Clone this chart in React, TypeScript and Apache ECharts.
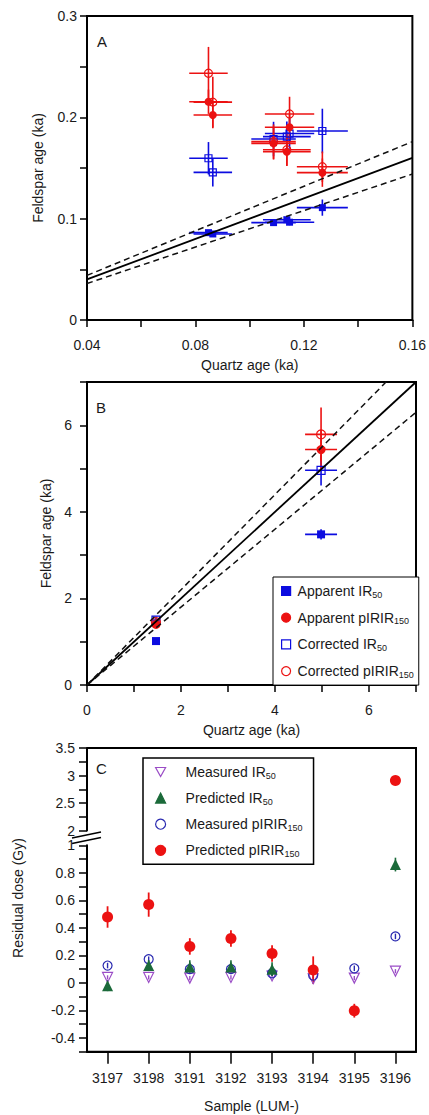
import React, { useEffect, useRef } from 'react';
import * as echarts from 'echarts';

const FONT = "'Liberation Sans', Arial, Helvetica, sans-serif";
const TXT = '#1a1a1a';

// ---------- Panel A (young samples) ----------
const quartzA = [0.0848, 0.0864, 0.1088, 0.1137, 0.1147, 0.1268];
const quartzErrA = [0.0071, 0.0071, 0.0082, 0.0088, 0.0091, 0.0094];
const appIR50A = [0.0862, 0.0849, 0.0961, 0.099, 0.0965, 0.1109];
const appIR50ErrA = [0.002, 0.002, 0.003, 0.003, 0.003, 0.008];
const corIR50A = [0.1596, 0.1457, 0.1786, 0.181, 0.184, 0.1865];
const corIR50ErrA = [0.016, 0.014, 0.017, 0.015, 0.015, 0.022];
const appPIRA = [0.2154, 0.2023, 0.1743, 0.1661, 0.1902, 0.1454];
const appPIRErrA = [0.012, 0.013, 0.016, 0.014, 0.012, 0.014];
const corPIRA = [0.2435, 0.215, 0.176, 0.168, 0.2033, 0.1513];
const corPIRErrA = [0.026, 0.025, 0.017, 0.016, 0.017, 0.015];

// ---------- Panel B (older samples) ----------
const quartzB = [1.468, 4.98];
const quartzErrB = [0.08, 0.34];
const appIR50B = [1.015, 3.48];
const appIR50ErrB = [0.06, 0.12];
const corIR50B = [1.5, 4.96];
const corIR50ErrB = [0.08, 0.35];
const appPIRB = [1.4, 5.44];
const appPIRErrB = [0.07, 0.45];
const corPIRB = [1.45, 5.79];
const corPIRErrB = [0.08, 0.62];

// reference lines: 1:1 and +/-10 %
const refRatios = [1, 1.1, 0.9];
const rangeA = [0.04, 0.16];
const rangeB = [0, 7];

// ---------- Panel C (residual doses) ----------
const samples = ['3197', '3198', '3191', '3192', '3193', '3194', '3195', '3196'];
const measIR50 = [0.04, 0.04, 0.035, 0.04, 0.05, 0.03, 0.035, 0.085];
const measIR50Err = [0.015, 0.015, 0.015, 0.015, 0.015, 0.015, 0.015, 0.015];
const predIR50 = [-0.02, 0.126, 0.115, 0.115, 0.1, null, null, 0.86];
const predIR50Err = [0.04, 0.04, 0.05, 0.05, 0.05, 0, 0, 0.05];
const measPIR = [0.126, 0.172, 0.1, 0.1, 0.07, 0.053, 0.106, 0.338];
const measPIRErr = [0.02, 0.02, 0.02, 0.02, 0.02, 0.02, 0.02, 0.02];
const predPIR = [0.479, 0.569, 0.265, 0.323, 0.214, 0.093, -0.202, 2.91];
const predPIRErr = [0.078, 0.088, 0.06, 0.06, 0.06, 0.1, 0.05, 0.03];

const BLUE = '#0c0ce0';
const RED = '#ec1212';
const GREEN = '#1b6a3a';
const PURPLE = '#9a4cc6';
const NAVY = '#2a2ab0';
const DOWN_TRI = 'path://M0,0 L10,0 L5,9 Z';

// layout
const L = 87;
const W = 329;
const gA = { top: 16, height: 304 };
const gB = { top: 382, height: 303 };
const gCu = { top: 748, height: 82.5 };
const gCl = { top: 845.3, height: 206.4 };

const fmt = (v: number) => String(parseFloat(v.toFixed(3)));

function valAxis(gridIndex: number, min: number, max: number, interval: number, every: number, extra: any = {}) {
  const { axisLabel: labelExtra, axisTick: tickExtra, ...rest } = extra;
  return {
    type: 'value',
    gridIndex,
    min,
    max,
    interval,
    axisLine: { show: true, onZero: false, lineStyle: { color: '#000', width: 2 } },
    axisTick: { show: true, inside: false, length: 7, lineStyle: { color: '#000', width: 1.5 }, ...(tickExtra || {}) },
    splitLine: { show: false },
    axisLabel: {
      show: true,
      showMinLabel: true,
      showMaxLabel: true,
      fontFamily: FONT,
      fontSize: 14,
      color: TXT,
      formatter: (v: number) => (Math.round(v / interval) % every === 0 ? fmt(v) : ''),
      ...(labelExtra || {}),
    },
    nameTextStyle: { fontFamily: FONT, fontSize: 14, color: TXT },
    ...rest,
  };
}

function errSeries(data: number[][], color: string, xAxisIndex: number, yAxisIndex: number, width = 1.6) {
  return {
    type: 'custom',
    coordinateSystem: 'cartesian2d',
    xAxisIndex,
    yAxisIndex,
    silent: true,
    data,
    encode: { x: 0, y: 1 },
    renderItem: (_p: any, api: any) => {
      const x = api.value(0);
      const y = api.value(1);
      const ex = api.value(2);
      const ey = api.value(3);
      const children: any[] = [];
      if (ex > 0) {
        const l = api.coord([x - ex, y]);
        const r = api.coord([x + ex, y]);
        children.push({ type: 'line', shape: { x1: l[0], y1: l[1], x2: r[0], y2: r[1] }, style: { stroke: color, lineWidth: width } });
      }
      if (ey > 0) {
        const t = api.coord([x, y + ey]);
        const b = api.coord([x, y - ey]);
        children.push({ type: 'line', shape: { x1: t[0], y1: t[1], x2: b[0], y2: b[1] }, style: { stroke: color, lineWidth: width } });
      }
      return { type: 'group', children };
    },
  };
}

const xyErr = (xs: number[], ys: number[], ex: number[], ey: number[]) => xs.map((x, i) => [x, ys[i], ex[i], ey[i]]);
const xy = (xs: number[], ys: number[]) => xs.map((x, i) => [x, ys[i]]);

function scatter(name: string, data: any[], xAxisIndex: number, yAxisIndex: number, symbol: string, size: number, color: string, open: boolean) {
  return {
    type: 'scatter',
    name,
    xAxisIndex,
    yAxisIndex,
    data,
    symbol,
    symbolSize: size,
    silent: true,
    itemStyle: open
      ? { color: 'rgba(255,255,255,0)', borderColor: color, borderWidth: 1.2, opacity: 1 }
      : { color, borderColor: color, borderWidth: 0, opacity: 1 },
  };
}

function refLines(range: number[], xi: number, yi: number) {
  return refRatios.map((r) => ({
    type: 'line',
    xAxisIndex: xi,
    yAxisIndex: yi,
    data: [[range[0], range[0] * r], [range[1], range[1] * r]],
    symbol: 'none',
    silent: true,
    clip: true,
    lineStyle: r === 1 ? { color: '#000', width: 1.8, type: 'solid' } : { color: '#111', width: 1.5, type: [6, 4] },
  }));
}

const catLower = (vals: (number | null)[]) => vals.map((v) => (v != null && v <= 1 ? v : '-'));
const catUpper = (vals: (number | null)[]) => vals.map((v) => (v != null && v >= 2 ? v : '-'));
const catErr = (vals: (number | null)[], errs: number[], upper: boolean) =>
  vals
    .map((v, i) => (v == null ? null : [i, v, 0, errs[i]]))
    .filter((d) => d != null && (upper ? (d as number[])[1] >= 2 : (d as number[])[1] <= 1)) as number[][];

const subLabel = (name: string) => name.replace(/IR(50|150)$/, 'IR{sub|$1}');

const legendText = {
  fontFamily: FONT,
  fontSize: 14,
  color: TXT,
  lineHeight: 16,
  rich: { sub: { fontFamily: FONT, fontSize: 9, color: TXT, lineHeight: 9, verticalAlign: 'bottom' } },
};

export default function App() {
  const ref = useRef<HTMLDivElement>(null);
  useEffect(() => {
    if (!ref.current) return;
    const chart = echarts.init(ref.current, null, { renderer: 'svg' });
    const cTick = { show: true, length: 8, lineStyle: { color: '#000', width: 1.5 } };
    const option: any = {
      animation: false,
      backgroundColor: '#fff',
      grid: [
        { left: L, width: W, top: gA.top, height: gA.height, show: true, borderColor: '#000', borderWidth: 2, backgroundColor: 'transparent' },
        { left: L, width: W, top: gB.top, height: gB.height, show: true, borderColor: '#000', borderWidth: 2, backgroundColor: 'transparent' },
        { left: L, width: W, top: gCu.top, height: gCu.height, show: false },
        { left: L, width: W, top: gCl.top, height: gCl.height, show: false },
      ],
      xAxis: [
        valAxis(0, rangeA[0], rangeA[1], 0.02, 2, { name: 'Quartz age (ka)', nameLocation: 'middle', nameGap: 38, axisLabel: { margin: 18 } }),
        valAxis(1, rangeB[0], rangeB[1], 1, 2, { name: 'Quartz age (ka)', nameLocation: 'middle', nameGap: 38, axisLabel: { margin: 18 } }),
        { type: 'category', gridIndex: 2, data: samples, show: false },
        {
          type: 'category',
          gridIndex: 3,
          data: samples,
          name: 'Sample (LUM-)',
          nameLocation: 'middle',
          nameGap: 47,
          nameTextStyle: { fontFamily: FONT, fontSize: 14, color: TXT },
          axisLine: { show: true, onZero: false, lineStyle: { color: '#000', width: 2 } },
          axisTick: { show: true, alignWithLabel: true, length: 12, lineStyle: { color: '#000', width: 1.5 } },
          axisLabel: { show: true, interval: 0, margin: 19, fontFamily: FONT, fontSize: 14, color: TXT },
          splitLine: { show: false },
        },
      ],
      yAxis: [
        valAxis(0, 0, 0.3, 0.05, 2, { name: 'Feldspar age (ka)', nameLocation: 'middle', nameGap: 42, axisLabel: { margin: 10 } }),
        valAxis(1, rangeB[0], rangeB[1], 1, 2, { name: 'Feldspar age (ka)', nameLocation: 'middle', nameGap: 32, axisLabel: { margin: 15 } }),
        valAxis(2, 2, 3.5, 0.25, 2, { axisTick: cTick, axisLabel: { margin: 12 } }),
        valAxis(3, -0.5, 1, 0.1, 2, { axisTick: cTick, axisLabel: { margin: 12 } }),
      ],
      legend: [
        {
          orient: 'vertical',
          left: 273,
          top: 577,
          itemWidth: 9,
          itemHeight: 9,
          itemGap: 10.7,
          padding: [6, 5, 6, 8],
          borderColor: '#000',
          borderWidth: 1,
          backgroundColor: '#fff',
          selectedMode: false,
          align: 'left',
          itemStyle: { borderWidth: 1.2 },
          data: ['Apparent IR50', 'Apparent pIRIR150', 'Corrected IR50', 'Corrected pIRIR150'],
          formatter: subLabel,
          textStyle: { ...legendText, padding: [0, 0, 0, 2] },
        },
        {
          orient: 'vertical',
          left: 143,
          top: 758,
          itemWidth: 10,
          itemHeight: 10,
          itemGap: 10.1,
          padding: [6, 11, 6, 12],
          borderColor: '#000',
          borderWidth: 1.5,
          backgroundColor: '#fff',
          selectedMode: false,
          align: 'left',
          itemStyle: { borderWidth: 1.2 },
          data: ['Measured IR50', 'Predicted IR50', 'Measured pIRIR150', 'Predicted pIRIR150'],
          formatter: subLabel,
          textStyle: { ...legendText, padding: [0, 0, 0, 15] },
        },
      ],
      series: [
        // Panel A
        ...refLines(rangeA, 0, 0),
        errSeries(xyErr(quartzA, appIR50A, quartzErrA, appIR50ErrA), BLUE, 0, 0),
        errSeries(xyErr(quartzA, corIR50A, quartzErrA, corIR50ErrA), BLUE, 0, 0),
        errSeries(xyErr(quartzA, appPIRA, quartzErrA, appPIRErrA), RED, 0, 0),
        errSeries(xyErr(quartzA, corPIRA, quartzErrA, corPIRErrA), RED, 0, 0),
        scatter('Apparent IR50', xy(quartzA, appIR50A), 0, 0, 'rect', 7, BLUE, false),
        scatter('Corrected IR50', xy(quartzA, corIR50A), 0, 0, 'rect', 7, BLUE, true),
        scatter('Apparent pIRIR150', xy(quartzA, appPIRA), 0, 0, 'circle', 8, RED, false),
        scatter('Corrected pIRIR150', xy(quartzA, corPIRA), 0, 0, 'circle', 8, RED, true),
        // Panel B
        ...refLines(rangeB, 1, 1),
        errSeries(xyErr(quartzB, appIR50B, quartzErrB, appIR50ErrB), BLUE, 1, 1),
        errSeries(xyErr(quartzB, corIR50B, quartzErrB, corIR50ErrB), BLUE, 1, 1),
        errSeries(xyErr(quartzB, appPIRB, quartzErrB, appPIRErrB), RED, 1, 1),
        errSeries(xyErr(quartzB, corPIRB, quartzErrB, corPIRErrB), RED, 1, 1),
        scatter('Apparent IR50', xy(quartzB, appIR50B), 1, 1, 'rect', 8, BLUE, false),
        scatter('Corrected IR50', xy(quartzB, corIR50B), 1, 1, 'rect', 8, BLUE, true),
        scatter('Apparent pIRIR150', xy(quartzB, appPIRB), 1, 1, 'circle', 9, RED, false),
        scatter('Corrected pIRIR150', xy(quartzB, corPIRB), 1, 1, 'circle', 9, RED, true),
        // Panel C lower
        errSeries(catErr(measIR50, measIR50Err, false), PURPLE, 3, 3, 1.4),
        errSeries(catErr(measPIR, measPIRErr, false), NAVY, 3, 3, 1.4),
        errSeries(catErr(predIR50, predIR50Err, false), GREEN, 3, 3, 1.6),
        errSeries(catErr(predPIR, predPIRErr, false), RED, 3, 3, 1.8),
        scatter('Measured IR50', catLower(measIR50), 3, 3, DOWN_TRI, 10, PURPLE, true),
        scatter('Measured pIRIR150', catLower(measPIR), 3, 3, 'circle', 9, NAVY, true),
        scatter('Predicted IR50', catLower(predIR50), 3, 3, 'triangle', 11, GREEN, false),
        scatter('Predicted pIRIR150', catLower(predPIR), 3, 3, 'circle', 11, RED, false),
        // Panel C upper
        errSeries(catErr(predPIR, predPIRErr, true), RED, 2, 2, 1.8),
        scatter('Predicted pIRIR150', catUpper(predPIR), 2, 2, 'circle', 11, RED, false),
      ],
      graphic: [
        { type: 'text', left: 97, top: 34, style: { text: 'A', fontFamily: FONT, fontSize: 15, fill: TXT } },
        { type: 'text', left: 96, top: 400, style: { text: 'B', fontFamily: FONT, fontSize: 15, fill: TXT } },
        { type: 'text', left: 96, top: 761, style: { text: 'C', fontFamily: FONT, fontSize: 15, fill: TXT } },
        {
          type: 'polyline',
          shape: { points: [[L, gCu.top], [L + W, gCu.top], [L + W, gCl.top + gCl.height], [L, gCl.top + gCl.height]] },
          style: { stroke: '#000', lineWidth: 2, fill: 'none' },
          silent: true,
        },
        { type: 'line', shape: { x1: 72, y1: 838, x2: 101, y2: 832 }, style: { stroke: '#000', lineWidth: 1.5 }, silent: true },
        { type: 'line', shape: { x1: 72, y1: 843.5, x2: 101, y2: 837.5 }, style: { stroke: '#000', lineWidth: 1.5 }, silent: true },
        {
          type: 'text',
          x: 18,
          y: 898,
          rotation: Math.PI / 2,
          style: { text: 'Residual dose (Gy)', fontFamily: FONT, fontSize: 14, fill: TXT, align: 'center', verticalAlign: 'middle' },
          silent: true,
        },
      ],
    };
    chart.setOption(option);
    return () => chart.dispose();
  }, []);
  return <div ref={ref} style={{ position: 'absolute', left: 0, top: 0, width: 429, height: 1115 }} />;
}
